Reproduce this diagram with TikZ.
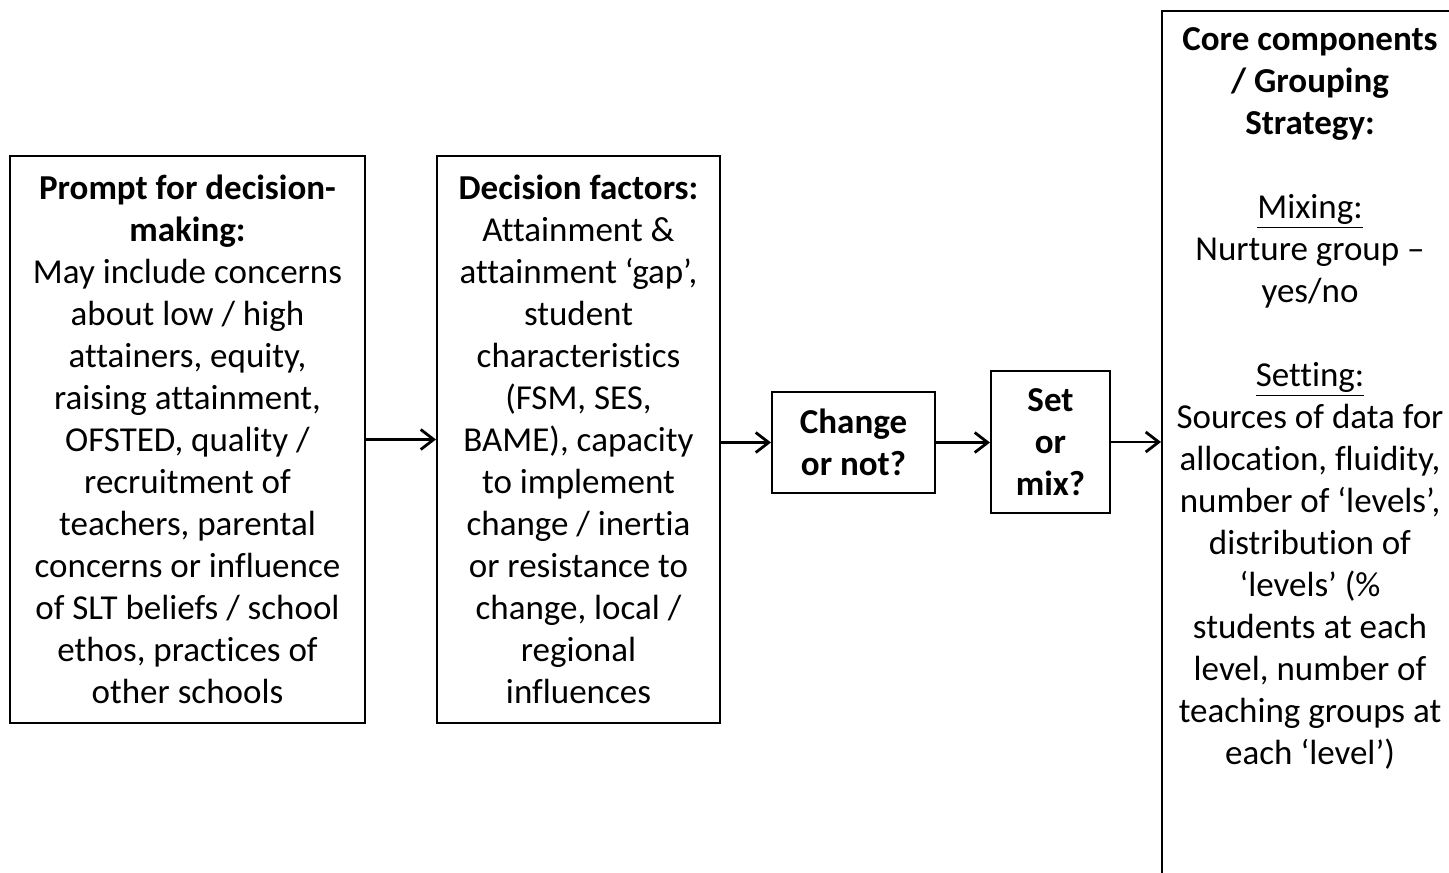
\documentclass[tikz,border=0pt]{standalone}
\usepackage{fontspec}
\setmainfont{Carlito}[Ligatures={TeX,NoCommon}]
\usetikzlibrary{arrows.meta}
\begin{document}
\begin{tikzpicture}[x=0.5pt,y=-0.5pt,
  box/.style={draw,line width=1pt,inner sep=0pt,align=center,font=\fontsize{17.5}{21}\selectfont},
  txt/.style={inner sep=0pt,align=center,font=\fontsize{17.5}{21}\selectfont},
  arr/.style={line width=1.4pt,-{Straight Barb[length=6.5pt,width=10pt,line width=1.4pt]}}]
\clip (0,0) rectangle (1449,872);
\useasboundingbox (0,0) rectangle (1449,872);
\node[box,minimum width=177.5pt,minimum height=283.5pt] (b1) at (187.5,439.5)
  {\textbf{Prompt for decision-}\\ \textbf{making:}\\ May include concerns\\ about low / high\\ attainers, equity,\\ raising attainment,\\ OFSTED, quality /\\ recruitment of\\ teachers, parental\\ concerns or influence\\ of SLT beliefs / school\\ ethos, practices of\\ other schools};
\node[box,minimum width=141.5pt,minimum height=283.5pt] (b2) at (578.5,439.5)
  {\textbf{Decision factors:}\\ Attainment \&\\ attainment ‘gap’,\\ student\\ characteristics\\ (FSM, SES,\\ BAME), capacity\\ to implement\\ change / inertia\\ or resistance to\\ change, local /\\ regional\\ influences};
\node[box,minimum width=81.5pt,minimum height=50.5pt] (b3) at (853.5,442.5)
  {\textbf{Change}\\ \textbf{or not?}};
\node[box,minimum width=59.5pt,minimum height=71pt] (b4) at (1050.5,442)
  {\textbf{Set}\\ \textbf{or}\\ \textbf{mix?}};
\node[box,minimum width=149pt,minimum height=434.5pt] (b5) at (1311,445.5) {};
\node[txt,anchor=north] (t5) at (1310,27)
  {\textbf{Core components}\\ \textbf{/ Grouping}\\ \textbf{Strategy:}\\[21pt]
   \underline{Mixing:}\\ Nurture group –\\ yes/no\\[21pt]
   \underline{Setting:}\\ Sources of data for\\ allocation, fluidity,\\ number of ‘levels’,\\ distribution of\\ ‘levels’ (\%\\ students at each\\ level, number of\\ teaching groups at\\ each ‘level’)};
\draw[arr] (b1.east) -- (b2.west);
\draw[arr] (b2.east |- b3.west) -- (b3.west);
\draw[arr] (b3.east) -- (b3.east -| b4.west);
\draw[arr] (b4.east) -- (b4.east -| b5.west);
\end{tikzpicture}
\end{document}
